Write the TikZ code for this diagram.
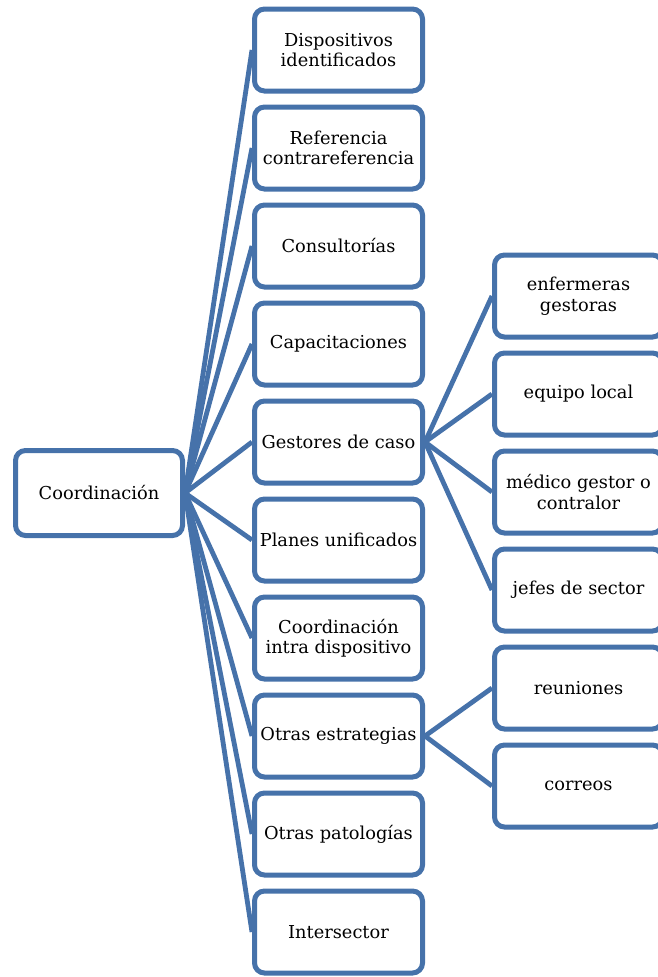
\documentclass[tikz,border=0pt]{standalone}
\usepackage{fontspec}
\setmainfont{DejaVu Serif}
\definecolor{boxblue}{RGB}{70,114,170}
\begin{document}
\begin{tikzpicture}[x=1pt,y=-1pt,
  box/.style={draw=boxblue, line width=5pt, rounded corners=10pt, fill=white,
    minimum width=168pt, minimum height=82pt, align=center, inner sep=2pt,
    font=\fontsize{17.8}{20.5}\selectfont},
  link/.style={draw=boxblue, line width=4.8pt}]
\useasboundingbox (0,0) rectangle (658,977);
\clip (0,0) rectangle (658,977);

% root
\node[box, minimum width=167pt, minimum height=85pt] (root) at (99,493) {Coordinación};

% first level
\node[box] (a1)  at (338.5,50)  {Dispositivos\\identificados};
\node[box] (a2)  at (338.5,148) {Referencia\\contrareferencia};
\node[box] (a3)  at (338.5,246) {Consultorías};
\node[box] (a4)  at (338.5,344) {Capacitaciones};
\node[box] (a5)  at (338.5,442) {Gestores de caso};
\node[box] (a6)  at (338.5,540) {Planes unificados};
\node[box] (a7)  at (338.5,638) {Coordinación\\intra dispositivo};
\node[box] (a8)  at (338.5,736) {Otras estrategias};
\node[box] (a9)  at (338.5,834) {Otras patologías};
\node[box] (a10) at (338.5,932) {Intersector};

% second level
\node[box] (b1) at (578.5,296) {enfermeras\\gestoras};
\node[box] (b2) at (578.5,394) {equipo local};
\node[box] (b3) at (578.5,492) {médico gestor o\\contralor};
\node[box] (b4) at (578.5,590) {jefes de sector};
\node[box] (c1) at (578.5,688) {reuniones};
\node[box] (c2) at (578.5,786) {correos};

% connectors
\foreach \n in {a1,a2,a3,a4,a5,a6,a7,a8,a9,a10}
  \draw[link] (root.east) -- (\n.west);
\foreach \n in {b1,b2,b3,b4}
  \draw[link] (a5.east) -- (\n.west);
\foreach \n in {c1,c2}
  \draw[link] (a8.east) -- (\n.west);
\end{tikzpicture}
\end{document}
